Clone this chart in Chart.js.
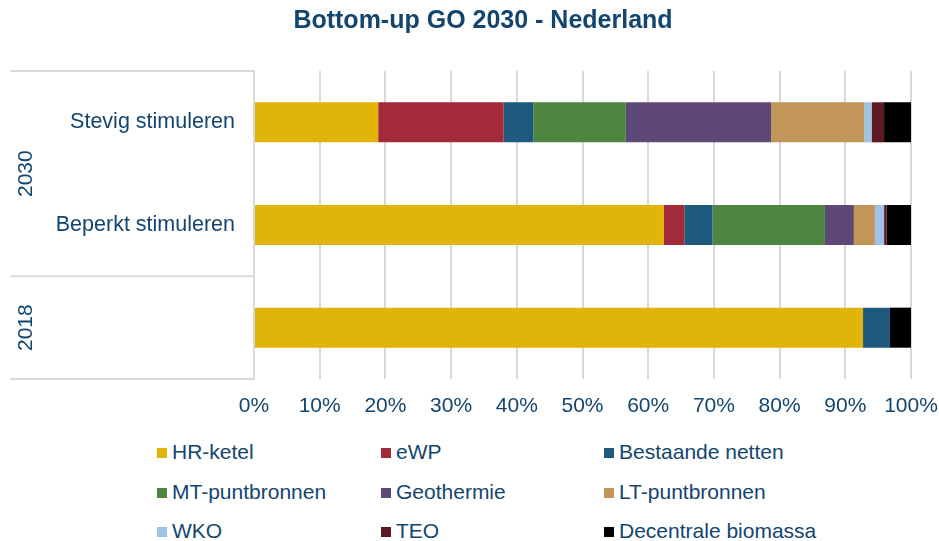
<!DOCTYPE html>
<html>
<head>
<meta charset="utf-8">
<script src="https://cdn.jsdelivr.net/npm/chart.js@4"></script>
<style>
  body { margin: 0; background: #fff; font-family: "Liberation Sans", Arial, sans-serif; }
  #wrap { position: relative; width: 939px; height: 541px; }
  #title { position: absolute; left: 0; top: 5px; width: 966px; text-align: center; font-size: 25px; font-weight: bold; color: #124570; }
  #chart { position: absolute; left: 0; top: 0; }
  .leg { position: absolute; font-size: 21px; color: #124570; line-height: 24px; white-space: nowrap; }
  .leg span { display: inline-block; width: 10px; height: 10px; margin-right: 5px; vertical-align: 1px; }
</style>
</head>
<body>
<div id="wrap">
  <canvas id="chart" width="939" height="430"></canvas>
  <div id="title">Bottom-up GO 2030 - Nederland</div>
  <div id="legend"></div>
</div>
<script>
// categorieën (2018 heeft geen eigen label, alleen de groep)
const categories = ["Stevig stimuleren", "Beperkt stimuleren", ""]
const groups = ["2030", "2018"]
const xTicks = [0, 10, 20, 30, 40, 50, 60, 70, 80, 90, 100]

// aandelen in %
const hrKetel = [18.9, 62.4, 92.7]
const eWP = [19.1, 3.1, 0]
const bestaandeNetten = [4.5, 4.3, 4.1]
const mtPuntbronnen = [14.1, 17.1, 0]
const geothermie = [22.1, 4.4, 0]
const ltPuntbronnen = [14.2, 3.2, 0]
const wko = [1.1, 1.4, 0]
const teo = [1.9, 0.4, 0]
const decBiomassa = [4.1, 3.7, 3.2]

const series = [
  ["HR-ketel", hrKetel, "#e1b40a"],
  ["eWP", eWP, "#a32a38"],
  ["Bestaande netten", bestaandeNetten, "#1d5a7e"],
  ["MT-puntbronnen", mtPuntbronnen, "#4e8542"],
  ["Geothermie", geothermie, "#5e4877"],
  ["LT-puntbronnen", ltPuntbronnen, "#c29558"],
  ["WKO", wko, "#9dc3e6"],
  ["TEO", teo, "#5e1a22"],
  ["Decentrale biomassa", decBiomassa, "#000000"]
]

const textColor = "#124570"
const lineColor = "#d9d9d9"

// groepslabels en kaderlijnen links van de as
const groupPlugin = {
  id: "groups",
  afterDraw(chart) {
    const ctx = chart.ctx
    const y = chart.scales.y
    const top = chart.chartArea.top
    const bottom = chart.chartArea.bottom
    const split = (y.getPixelForValue(1) + y.getPixelForValue(2)) / 2
    const left = 10
    const right = chart.chartArea.left
    ctx.save()
    ctx.strokeStyle = lineColor
    ctx.lineWidth = 2
    ctx.beginPath()
    ;[top, split, bottom].forEach(py => {
      ctx.moveTo(left, py)
      ctx.lineTo(right, py)
    })
    ctx.stroke()
    ctx.fillStyle = textColor
    ctx.font = "21px 'Liberation Sans', Arial, sans-serif"
    ctx.textAlign = "center"
    ctx.textBaseline = "middle"
    const spans = [[top, split], [split, bottom]]
    groups.forEach((g, i) => {
      ctx.save()
      ctx.translate(26, (spans[i][0] + spans[i][1]) / 2)
      ctx.rotate(-Math.PI / 2)
      ctx.fillText(g, 0, 0)
      ctx.restore()
    })
    ctx.restore()
  }
}

const ctx = document.getElementById("chart").getContext("2d")
new Chart(ctx, {
  type: "bar",
  data: {
    labels: categories,
    datasets: series.map(([label, data, color]) => ({
      label: label,
      data: data,
      backgroundColor: color,
      borderWidth: 0,
      categoryPercentage: 1,
      barPercentage: 0.39
    }))
  },
  options: {
    indexAxis: "y",
    responsive: false,
    animation: false,
    layout: { padding: { top: 71, left: 10, right: 28, bottom: 0 } },
    plugins: {
      legend: { display: false },
      tooltip: { enabled: false }
    },
    scales: {
      x: {
        stacked: true,
        min: 0,
        max: 100,
        afterBuildTicks: scale => { scale.ticks = xTicks.map(v => ({ value: v })) },
        afterFit: scale => {
          scale.height = 51
          scale.paddingLeft = 0
          scale.paddingRight = 0
        },
        grid: { color: lineColor, lineWidth: 2, drawTicks: false },
        border: { display: false },
        ticks: {
          padding: 15,
          color: textColor,
          font: { family: "'Liberation Sans', Arial, sans-serif", size: 21 },
          callback: v => v + "%"
        }
      },
      y: {
        stacked: true,
        afterFit: scale => { scale.width = 244 },
        grid: { display: false, drawTicks: false },
        border: { display: true, color: lineColor, width: 2 },
        ticks: {
          padding: 19,
          color: textColor,
          font: { family: "'Liberation Sans', Arial, sans-serif", size: 21.5 }
        }
      }
    }
  },
  plugins: [groupPlugin]
})

// legenda in drie kolommen
const legCols = [157, 381, 604]
const legRows = [452, 492, 531]
document.getElementById("legend").innerHTML = series.map(([label, data, color], i) => {
  const x = legCols[i % 3]
  const y = legRows[Math.floor(i / 3)] - 12
  return `<div class="leg" style="left:${x}px;top:${y}px"><span style="background:${color}"></span>${label}</div>`
}).join("")
</script>
</body>
</html>
